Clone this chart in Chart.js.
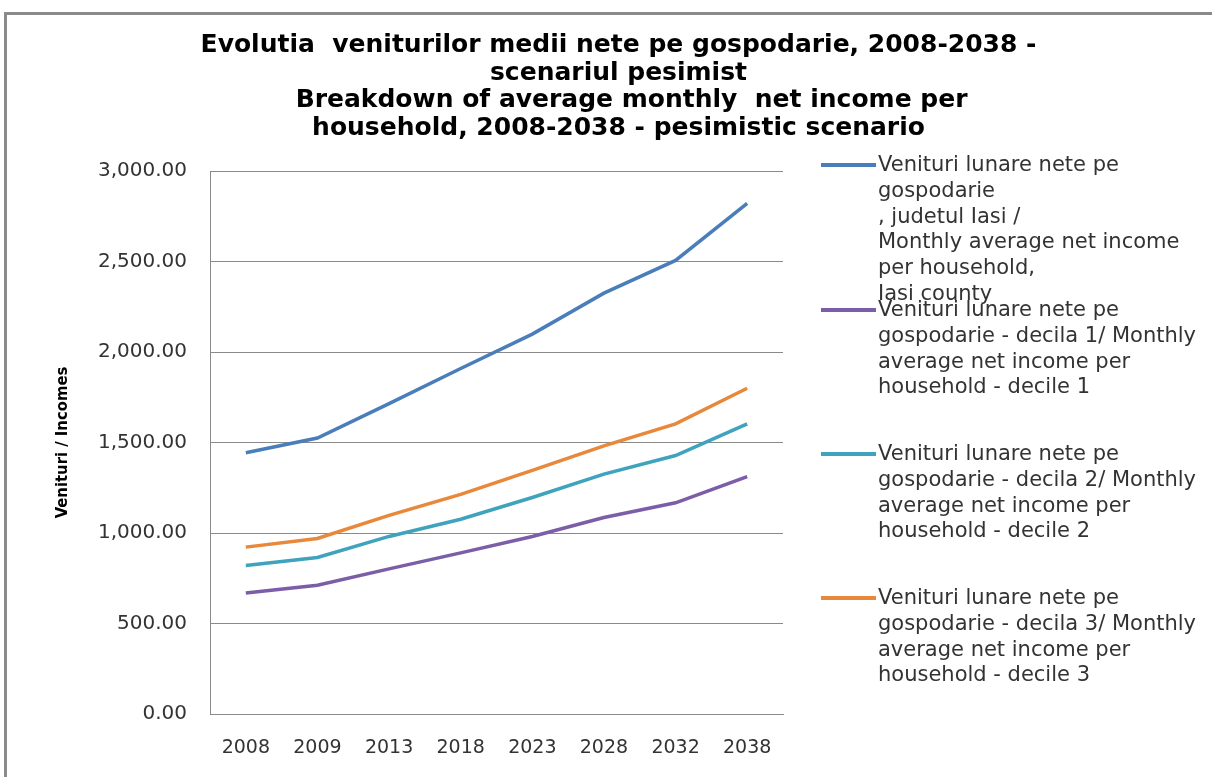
<!DOCTYPE html>
<html>
<head>
<meta charset="utf-8">
<script src="https://cdn.jsdelivr.net/npm/chart.js@4.4.1/dist/chart.umd.min.js"></script>
<style>
body { margin: 0; background: #fff; }
#frame {
    position: absolute; left: 4px; top: 12px;
    width: 1205px; height: 762px;
    border-top: 3px solid #8a8a8a; border-left: 3px solid #8a8a8a;
}
#legend { font-family: "DejaVu Sans", sans-serif; font-size: 21px; color: #333; }
.item { position: absolute; left: 821px; }
.item .swatch { position: absolute; left: 0; top: 11px; width: 55px; height: 4px; }
.item .text { position: absolute; left: 57px; top: 0; line-height: 25.8px; white-space: nowrap; }
.item:nth-child(1) { top: 152px; }
.item:nth-child(2) { top: 297px; }
.item:nth-child(3) { top: 441px; }
.item:nth-child(4) { top: 585px; }
</style>
</head>
<body>
<div id="frame"><canvas id="chart" width="1205" height="762"></canvas></div>
<div id="legend"></div>
<script>
const years = ['2008', '2009', '2013', '2018', '2023', '2028', '2032', '2038'];
const totalIncome = [1443, 1525, 1715, 1909, 2099, 2325, 2506, 2821];
const decile1 = [669, 711, 802, 890, 981, 1086, 1167, 1312];
const decile2 = [821, 865, 981, 1076, 1196, 1325, 1428, 1603];
const decile3 = [922, 970, 1097, 1213, 1346, 1481, 1603, 1800];

const seriesLabels = [
    ['Venituri lunare nete pe', 'gospodarie', ',  judetul Iasi /', 'Monthly average net income', 'per household,', 'Iasi county'],
    ['Venituri lunare nete pe', 'gospodarie - decila 1/ Monthly', 'average net income per', 'household - decile 1'],
    ['Venituri lunare nete pe', 'gospodarie - decila 2/ Monthly', 'average net income per', 'household - decile 2'],
    ['Venituri lunare nete pe', 'gospodarie - decila 3/ Monthly', 'average net income per', 'household - decile 3']
];
const seriesColors = ['#4a7ebb', '#7b5ea7', '#3fa3bd', '#e8883a'];

const titleLines = [
    'Evolutia  veniturilor medii nete pe gospodarie, 2008-2038 -',
    'scenariul pesimist',
    '   Breakdown of average monthly  net income per',
    'household, 2008-2038 - pesimistic scenario'
];
const yTitle = 'Venituri / Incomes';

const seriesValues = [totalIncome, decile1, decile2, decile3];

const datasets = seriesValues.map((values, i) => ({
    label: seriesLabels[i].join(' '),
    data: values,
    borderColor: seriesColors[i],
    backgroundColor: seriesColors[i],
    borderWidth: 3.5,
    pointRadius: 0,
    tension: 0
}));

const chart = new Chart(document.getElementById('chart'), {
    type: 'line',
    data: { labels: years, datasets: datasets },
    options: {
        responsive: false,
        maintainAspectRatio: false,
        animation: false,
        layout: { padding: { left: 18, bottom: 0 } },
        plugins: {
            legend: { display: false },
            tooltip: { enabled: false },
            title: {
                display: true,
                text: titleLines,
                color: '#000',
                font: { family: 'DejaVu Sans', size: 25, weight: 'bold', lineHeight: 1.1 },
                padding: { top: 17, bottom: 29 }
            }
        },
        scales: {
            x: {
                offset: true,
                afterFit: s => { s.height = 63; },
                grid: { display: false, drawTicks: false },
                border: { display: true, color: '#8a8a8a', width: 1 },
                ticks: { color: '#333', font: { family: 'DejaVu Sans', size: 19 }, padding: 23, maxRotation: 0 }
            },
            y: {
                min: 0,
                max: 3000,
                afterFit: s => { s.width = 185; },
                grid: { color: '#8a8a8a', drawTicks: false },
                border: { display: true, color: '#8a8a8a', width: 1 },
                ticks: {
                    stepSize: 500,
                    color: '#333',
                    font: { family: 'DejaVu Sans', size: 20 },
                    padding: 23,
                    callback: v => v.toLocaleString('en-US', { minimumFractionDigits: 2, maximumFractionDigits: 2 })
                },
                title: {
                    display: true,
                    text: yTitle,
                    color: '#000',
                    font: { family: 'DejaVu Sans Condensed', size: 16.5, weight: 'bold' },
                    padding: { top: 28 }
                }
            },
            // empty axis on the right that keeps room for the legend
            side: {
                position: 'right',
                display: true,
                afterFit: s => { s.width = 429; },
                grid: { display: false, drawTicks: false },
                border: { display: false },
                ticks: { display: false }
            }
        }
    }
});

// legend, built from the datasets
const legendDiv = document.getElementById('legend');
chart.data.datasets.forEach((ds, i) => {
    const item = document.createElement('div');
    item.className = 'item';
    const sw = document.createElement('div');
    sw.className = 'swatch';
    sw.style.background = ds.borderColor;
    const txt = document.createElement('div');
    txt.className = 'text';
    seriesLabels[i].forEach((line, j) => {
        if (j > 0) txt.appendChild(document.createElement('br'));
        txt.appendChild(document.createTextNode(line));
    });
    item.appendChild(sw);
    item.appendChild(txt);
    legendDiv.appendChild(item);
});
</script>
</body>
</html>
